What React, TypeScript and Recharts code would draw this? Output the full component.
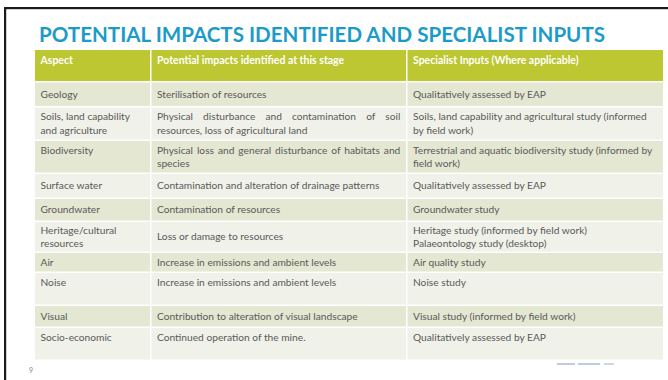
import React from "react";
import { BarChart, Bar, XAxis, YAxis } from "recharts";

const title = "POTENTIAL IMPACTS IDENTIFIED AND SPECIALIST INPUTS";

const headers = [
  "Aspect",
  "Potential impacts identified at this stage",
  "Specialist Inputs (Where applicable)",
];

const aspects = [
  "Geology",
  "Soils, land capability\nand agriculture",
  "Biodiversity\n",
  "Surface water",
  "Groundwater",
  "Heritage/cultural\nresources",
  "Air",
  "Noise\n",
  "Visual",
  "Socio-economic\n",
];

const impacts = [
  "Sterilisation of resources",
  "Physical disturbance and contamination of soil\nresources, loss of agricultural land",
  "Physical loss and general disturbance of habitats and\nspecies",
  "Contamination and alteration of drainage patterns",
  "Contamination of resources",
  "Loss or damage to resources",
  "Increase in emissions and ambient levels",
  "Increase in emissions and ambient levels\n",
  "Contribution to alteration of visual landscape",
  "Continued operation of the mine.\n",
];

const inputs = [
  "Qualitatively assessed by EAP",
  "Soils, land capability and agricultural study (informed\nby field work)",
  "Terrestrial and aquatic biodiversity study (informed by\nfield work)",
  "Qualitatively assessed by EAP",
  "Groundwater study",
  "Heritage study (informed by field work)\nPalaeontology study (desktop)",
  "Air quality study",
  "Noise study\n",
  "Visual study (informed by field work)",
  "Qualitatively assessed by EAP\n",
];

// row heights (header first), in table units
const rowHeights = [32.5, 25, 33.5, 33, 25, 23, 31, 20, 33, 22, 33];

const tableData = [
  rowHeights.reduce(
    (acc, h, i) => ({ ...acc, [`r${i}`]: h }),
    { name: "table" } as Record<string, any>
  ),
];
const total = rowHeights.reduce((a, b) => a + b, 0);

const FONT = "Lato, 'Open Sans', sans-serif";
const FS = 10.2;
const HFS = 10.5;
const LINE = 13.5;
const COL_FRAC = [115 / 628, 371 / 628];
const GAP = 1.5;
const PAD = 5.5;

let ctx: CanvasRenderingContext2D | null = null;
function measure(text: string) {
  if (!ctx) ctx = document.createElement("canvas").getContext("2d");
  if (!ctx) return text.length * 5;
  ctx.font = `${FS}px Lato`;
  return ctx.measureText(text).width;
}

function Cell({ text, x, w, top, h, header, justify }: any) {
  const lines = text.split("\n");
  const first = header
    ? top + 14
    : top + h / 2 - ((lines.length - 1) * LINE) / 2 + 3.5;
  return (
    <>
      {lines.map((ln: string, i: number) => {
        let ws = 0;
        const next = lines[i + 1];
        if (justify && next !== undefined && next.trim() !== "") {
          const words = ln.split(" ").length - 1;
          const free = w - 2 * PAD - measure(ln);
          if (words > 0 && free > 0) ws = free / words;
        }
        return (
          <text
            key={i}
            x={x + PAD}
            y={first + i * LINE}
            fontFamily={FONT}
            fontSize={header ? HFS : FS}
            fontWeight={header ? 700 : 400}
            fill={header ? "#ffffff" : "#5a5a5a"}
            wordSpacing={ws}
          >
            {ln}
          </text>
        );
      })}
    </>
  );
}

function TableRow(props: any) {
  const { x, y, width, height, row } = props;
  const top = Math.min(y, y + height);
  const h = Math.abs(height);
  const header = row === 0;
  const fill = header ? "#bcc731" : row % 2 === 1 ? "#e4e7d2" : "#f0f1e8";
  const edges = [x, x + width * COL_FRAC[0], x + width * COL_FRAC[1], x + width];
  const texts = header
    ? headers
    : [aspects[row - 1], impacts[row - 1], inputs[row - 1]];
  return (
    <g>
      {texts.map((t, c) => {
        const cx = c === 0 ? edges[c] : edges[c] + GAP;
        const cw = edges[c + 1] - cx;
        return (
          <g key={c}>
            <rect x={cx} y={top} width={cw} height={h - GAP} fill={fill} />
            <Cell
              text={t}
              x={cx}
              w={cw}
              top={top}
              h={h - GAP}
              header={header}
              justify={c === 1 && !header}
            />
          </g>
        );
      })}
    </g>
  );
}

export default function App() {
  return (
    <div style={{ width: 668, height: 380, background: "#ffffff" }}>
      <style>{"body{margin:0}"}</style>
      <BarChart
        width={668}
        height={380}
        data={tableData}
        margin={{ top: 50, right: 5, bottom: 19, left: 35 }}
        barCategoryGap={0}
        barGap={0}
      >
        <XAxis dataKey="name" hide />
        <YAxis type="number" hide reversed domain={[0, total]} />
        {rowHeights.map((_, i) => (
          <Bar
            key={i}
            dataKey={`r${i}`}
            stackId="t"
            isAnimationActive={false}
            shape={(p: any) => <TableRow {...p} row={i} />}
          />
        ))}
        <rect x={4} y={7} width={664} height={2.2} fill="#1b1b1b" />
        <rect x={4} y={7} width={2.2} height={373} fill="#1b1b1b" />
        <text
          x={39}
          y={41.5}
          fontFamily={FONT}
          fontWeight={700}
          fontSize={21}
          fill="#1d9bc8"
          textLength={566}
          lengthAdjust="spacingAndGlyphs"
        >
          {title}
        </text>
        <text x={29} y={373} fontFamily={FONT} fontSize={7} fill="#8a8a8a">
          9
        </text>
        <rect x={557} y={363} width={18} height={2} fill="#6f8fb3" opacity={0.45} />
        <rect x={578} y={363} width={22} height={2} fill="#6f8fb3" opacity={0.45} />
        <rect x={604} y={363} width={10} height={2} fill="#6f8fb3" opacity={0.35} />
      </BarChart>
    </div>
  );
}
